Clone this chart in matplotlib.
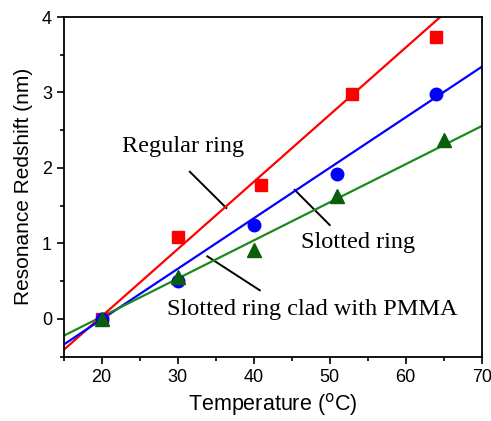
import matplotlib
matplotlib.use("Agg")
import matplotlib.pyplot as plt
import numpy as np
from matplotlib.ticker import MultipleLocator

# Messpunkte
t_regular = [20, 30, 41, 53, 64]
shift_regular = [0.0, 1.08, 1.78, 2.98, 3.73]
t_slotted = [20, 30, 40, 51, 64]
shift_slotted = [0.0, 0.50, 1.25, 1.92, 2.98]
t_pmma = [20, 30, 40, 51, 65]
shift_pmma = [0.0, 0.55, 0.92, 1.63, 2.37]

# lineare Fits: Steigung (nm/°C) und Wert bei 20 °C
fit_slope = [0.089, 0.0669, 0.0505]
fit_at20 = [0.035, -0.005, 0.03]

labels = ["Regular ring", "Slotted ring", "Slotted ring clad with PMMA"]

fig = plt.figure(figsize=(4.91, 4.21), dpi=100)
ax = fig.add_axes([0.1297, 0.1527, 0.8513, 0.8069])

tx = np.array([15, 70])
line_cols = ["#ff0000", "#0000ff", "#1a8a1a"]
for s, b, c in zip(fit_slope, fit_at20, line_cols):
    ax.plot(tx, b + s * (tx - 20), color=c, lw=1.6, zorder=2)

ax.plot(t_regular, shift_regular, "s", color="#ff0000", ms=9, zorder=3)
ax.plot(t_slotted, shift_slotted, "o", color="#0000ff", ms=9, zorder=4)
ax.plot(t_pmma, shift_pmma, "^", color="#0b5e0b", ms=10, zorder=5)

# Beschriftungen mit Hinweislinien
ax.plot([31.6, 36.4], [1.95, 1.47], color="black", lw=1.4, zorder=1)
ax.plot([45.4, 50.0], [1.71, 1.245], color="black", lw=1.4, zorder=1)
ax.plot([33.9, 40.8], [0.83, 0.38], color="black", lw=1.4, zorder=1)
ax.text(30.7, 2.28, labels[0], ha="center", va="center",
        family="Liberation Serif", fontsize=17.5)
ax.text(46.2, 1.01, labels[1], ha="left", va="center",
        family="Liberation Serif", fontsize=17.5)
ax.text(28.6, 0.12, labels[2], ha="left", va="center",
        family="Liberation Serif", fontsize=17.5)

ax.set_xlim(15, 70)
ax.set_ylim(-0.5, 4)
ax.xaxis.set_major_locator(MultipleLocator(10))
ax.xaxis.set_minor_locator(MultipleLocator(5))
ax.yaxis.set_major_locator(MultipleLocator(1))
ax.yaxis.set_minor_locator(MultipleLocator(0.5))
ax.set_xticks([20, 30, 40, 50, 60, 70])
ax.set_yticks([0, 1, 2, 3, 4])
ax.tick_params(which="major", direction="out", length=5, width=1.2,
               labelsize=13)
ax.tick_params(which="minor", direction="out", length=3, width=1.2)
for sp in ax.spines.values():
    sp.set_linewidth(1.3)
for lab in ax.get_xticklabels() + ax.get_yticklabels():
    lab.set_family("Liberation Sans")

ax.set_xlabel("Temperature ($^{\\mathrm{o}}$C)", family="Liberation Sans",
              fontsize=15.5, labelpad=4)
ax.set_ylabel("Resonance Redshift (nm)", family="Liberation Sans",
              fontsize=15, labelpad=6)

fig.savefig("out.png", dpi=100)
